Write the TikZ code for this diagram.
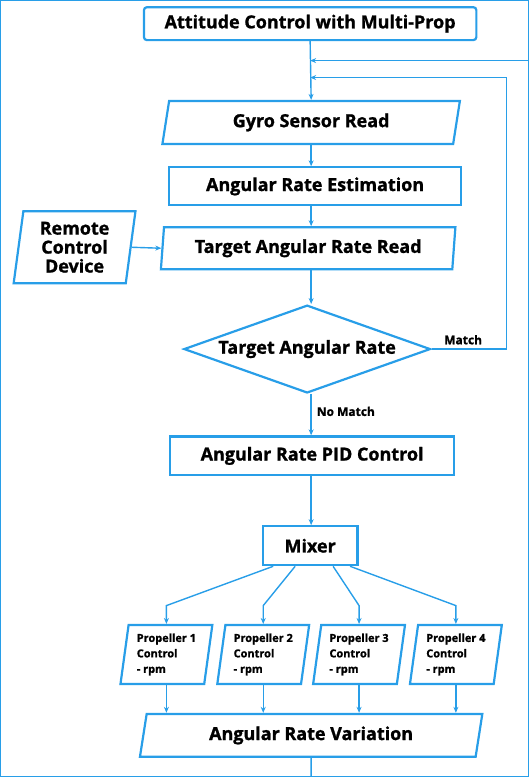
\documentclass[tikz,border=0pt]{standalone}
\usepackage{fontspec}
\setmainfont{Open Sans}[BoldFeatures={FakeBold=1.2}]
\usetikzlibrary{arrows.meta,positioning,shapes.geometric}
\definecolor{flowblue}{RGB}{40,158,232}

\tikzset{
  box/.style={rectangle,draw=flowblue,line width=2.2pt,fill=white,inner sep=2pt,
    font=\fontsize{18}{19}\selectfont\bfseries},
  para/.style={box,trapezium,trapezium stretches body,
    trapezium left angle=#1,trapezium right angle=180-#1},
  para/.default=73,
  decision/.style={box,diamond,aspect=2.8,inner sep=0pt},
  propbox/.style={para=80,align=left,minimum width=92,minimum height=59,
    font=\fontsize{11}{15.5}\selectfont\bfseries},
  lbl/.style={font=\fontsize{12}{14}\selectfont\bfseries,inner sep=1pt}
}

\begin{document}
\begin{tikzpicture}[x=1pt,y=-1pt,>={Stealth[length=6pt,width=5pt]},
  every path/.style={draw=flowblue,line width=1.4pt}]
\useasboundingbox (0,0) rectangle (529,777);

\node[box,rounded corners=3pt,minimum width=333,minimum height=33] (title) at (310,23) {Attitude Control with Multi-Prop};
\node[para,minimum width=298,minimum height=43] (gyro) at (311,122) {Gyro Sensor Read};
\node[box,minimum width=293,minimum height=38] (est) at (315,186) {Angular Rate Estimation};
\node[para=82,minimum width=295,minimum height=42] (read) at (308,248) {Target Angular Rate Read};
\node[para=80,align=center,minimum width=122,minimum height=72] (remote) at (74,247) {Remote\\Control\\Device};
\node[decision,minimum width=247,minimum height=88] (decide) at (307,349) {Target Angular Rate};
\node[box,minimum width=285,minimum height=39] (pid) at (312,456) {Angular Rate PID Control};
\node[box,minimum width=95,minimum height=39] (mixer) at (310,546) {Mixer};
\node[propbox] (p1) at (166,655) {Propeller 1\\Control\\- rpm};
\node[propbox] (p2) at (263,655) {Propeller 2\\Control\\- rpm};
\node[propbox] (p3) at (359,655) {Propeller 3\\Control\\- rpm};
\node[propbox] (p4) at (456,655) {Propeller 4\\Control\\- rpm};
\node[para,minimum width=343,minimum height=43] (var) at (311,736) {Angular Rate Variation};

\coordinate (edge) at (529,60);
\coordinate (back) at (507,77);
\coordinate (fan) at (0,606);
\coordinate (out) at (311,777);

% main column
\draw[->] (title.south) -- (gyro.north);
\draw[->] (edge) -- (edge -| title.south);
\draw[->] (gyro.south) -- (est.north -| gyro.south);
\draw[->] (est.south -| gyro.south) -- (read.north -| gyro.south);
\draw[->] (remote.east) -- (read.west);
\draw[->] (read.south -| gyro.south) -- (decide.north -| gyro.south);
\draw[->] (decide.east) -- node[lbl,above,yshift=3pt,pos=0.42]{Match} (back |- decide.east) -- (back) -- (back -| title.south);
\draw[->] (decide.south -| gyro.south) -- node[lbl,right,xshift=4pt,pos=0.42]{No Match} (pid.north -| gyro.south);
\draw[->] (pid.south -| gyro.south) -- (mixer.north -| gyro.south);

% mixer to propellers
\draw[->] ([xshift=-37pt]mixer.south) -- (p1.north |- fan) -- (p1.north);
\draw[->] ([xshift=-15pt]mixer.south) -- (p2.north |- fan) -- (p2.north);
\draw[->] ([xshift=23pt]mixer.south) -- (p3.north |- fan) -- (p3.north);
\draw[->] ([xshift=40pt]mixer.south) -- (p4.north |- fan) -- (p4.north);

\foreach \p in {p1,p2,p3,p4}
  \draw[->] (\p.south) -- (\p.south |- var.north);
\draw (var.south) -- (out);
\end{tikzpicture}
\end{document}
